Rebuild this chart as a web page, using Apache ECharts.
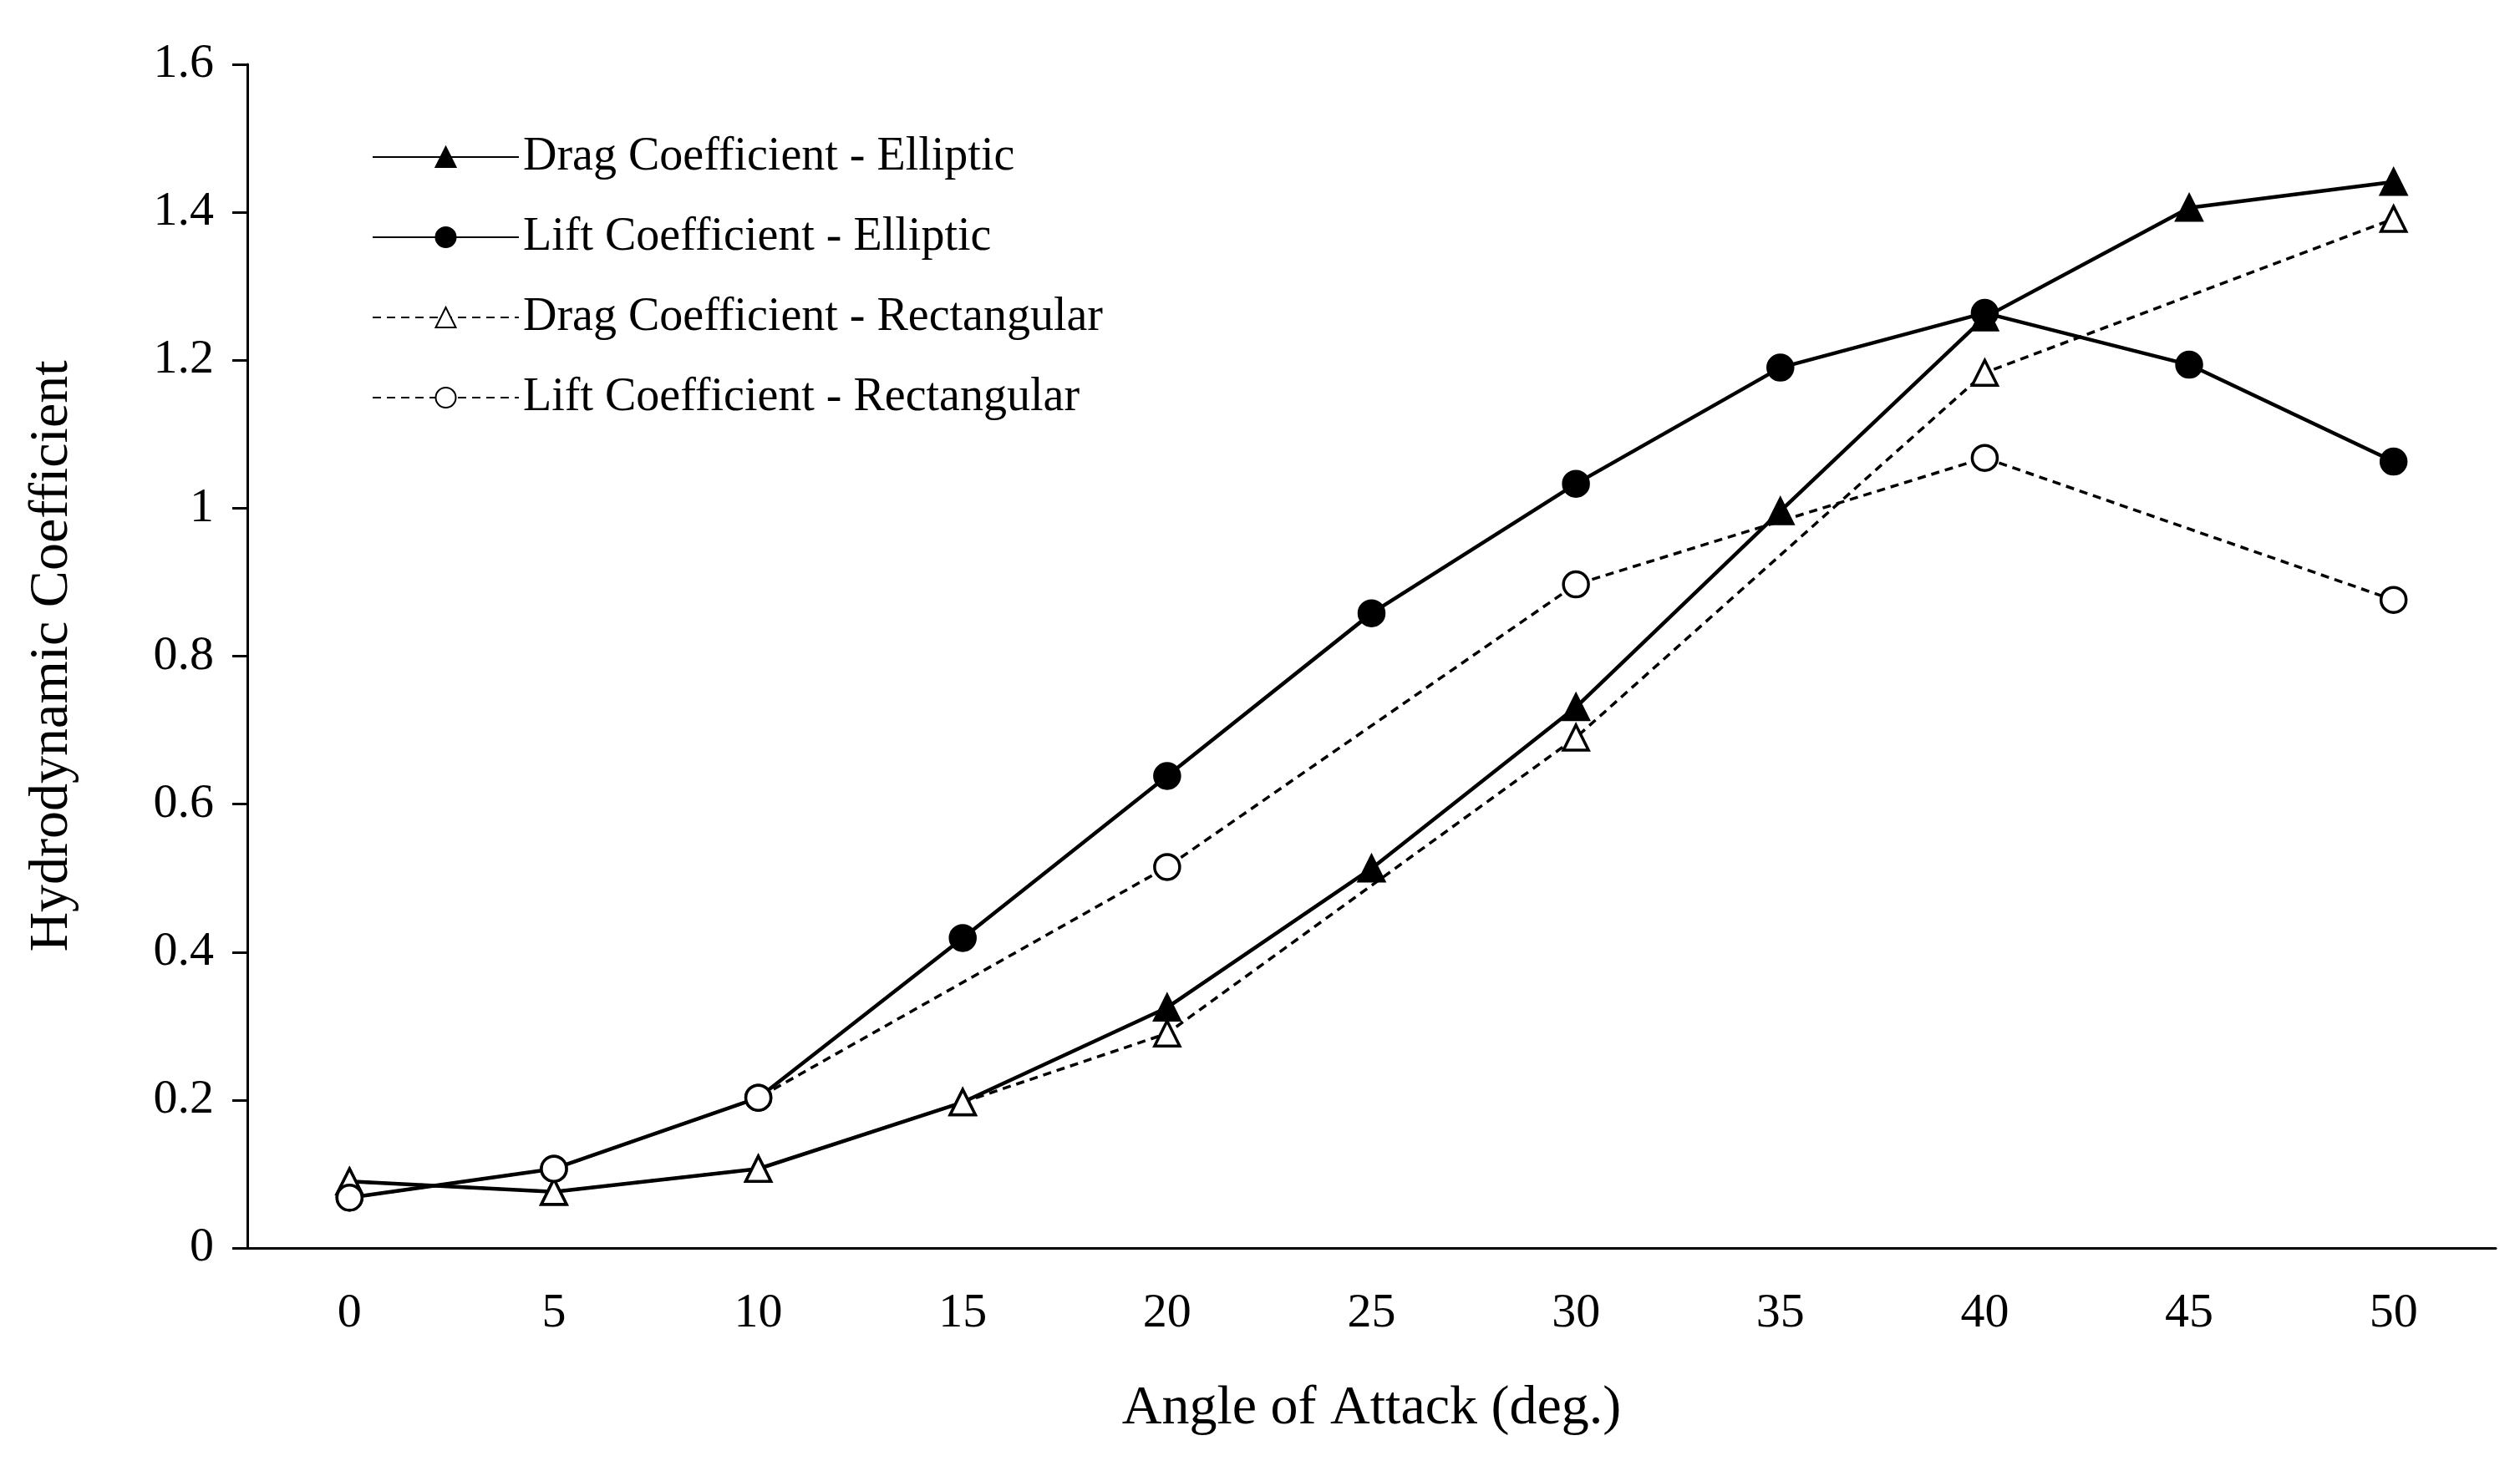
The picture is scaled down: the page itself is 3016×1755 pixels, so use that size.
<!DOCTYPE html>
<html>
<head>
<meta charset="UTF-8">
<script src="https://cdn.jsdelivr.net/npm/echarts@6/dist/echarts.min.js"></script>
<style>html,body{margin:0;background:#fff}</style>
</head>
<body>
<div id="c" style="width:3016px;height:1755px;"></div>
<script>
const angles = ['0','5','10','15','20','25','30','35','40','45','50'];
const dragElliptic = [0.09,0.076,0.107,0.197,0.325,0.513,0.731,0.996,1.258,1.406,1.441];
const liftElliptic = [0.068,0.107,0.203,0.419,0.638,0.858,1.033,1.19,1.264,1.194,1.063];
const dragRect = [0.09,0.076,0.107,0.197,0.29,null,0.69,null,1.183,null,1.391];
const liftRect = [0.068,0.107,0.203,null,0.515,null,0.897,null,1.068,null,0.876];

const font = 'Liberation Serif';
function mk(name, data, symbol, filled, dashed) {
  return {
    name, type: 'line', data, connectNulls: true,
    symbol, symbolSize: symbol === 'triangle' ? 30 : 30,
    lineStyle: {color: '#000', width: dashed ? 3.5 : 4.5, type: dashed ? [10, 7] : 'solid'},
    itemStyle: {color: filled ? '#000' : '#fff', borderColor: '#000', borderWidth: 3.5},
    emphasis: {disabled: true}
  };
}
const chart = echarts.init(document.getElementById('c'));
chart.setOption({
  animation: false,
  grid: {left: 296, right: 29, top: 77, bottom: 261},
  legend: {
    left: 440, top: 155, orient: 'vertical', itemGap: 40,
    itemWidth: 175, itemHeight: 30,
    textStyle: {fontFamily: font, fontSize: 56, color: '#000'},
    data: ['Drag Coefficient - Elliptic','Lift Coefficient - Elliptic','Drag Coefficient - Rectangular','Lift Coefficient - Rectangular']
  },
  xAxis: {
    type: 'category', data: angles, boundaryGap: true,
    name: 'Angle of Attack (deg.)', nameLocation: 'middle', nameGap: 160,
    nameTextStyle: {fontFamily: font, fontSize: 66, color: '#000'},
    axisLine: {lineStyle: {color: '#000', width: 3}},
    axisTick: {show: false},
    axisLabel: {fontFamily: font, fontSize: 58, color: '#000', margin: 50}
  },
  yAxis: {
    type: 'value', min: 0, max: 1.6, interval: 0.2,
    name: 'Hydrodynamic Coefficient', nameLocation: 'middle', nameGap: 200,
    nameTextStyle: {fontFamily: font, fontSize: 66, color: '#000'},
    axisLine: {show: true, lineStyle: {color: '#000', width: 3}},
    axisTick: {show: true, inside: false, length: 18, lineStyle: {color: '#000', width: 3}},
    splitLine: {show: false},
    axisLabel: {fontFamily: font, fontSize: 58, color: '#000', margin: 40,
      formatter: v => String(Math.round(v * 10) / 10)}
  },
  series: [
    mk('Drag Coefficient - Elliptic', dragElliptic, 'triangle', true, false),
    mk('Lift Coefficient - Elliptic', liftElliptic, 'circle', true, false),
    mk('Drag Coefficient - Rectangular', dragRect, 'triangle', false, true),
    mk('Lift Coefficient - Rectangular', liftRect, 'circle', false, true)
  ]
});
</script>
</body>
</html>
